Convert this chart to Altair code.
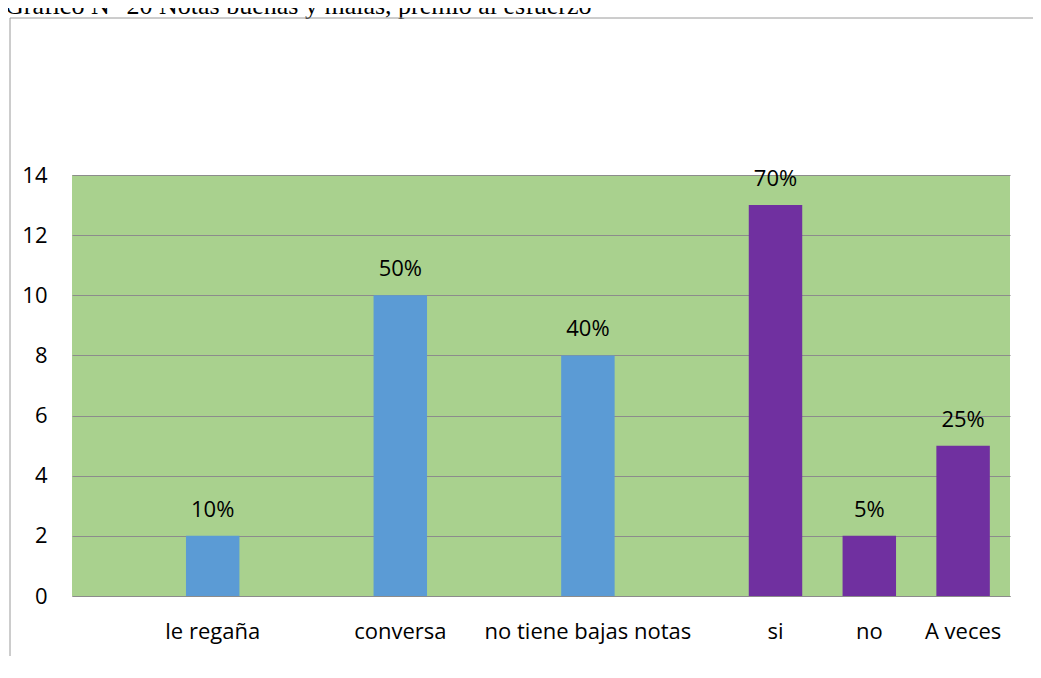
import altair as alt
import pandas as pd

# ---- data ----
title_text = "Gráfico N° 20 Notas buenas y malas, premio al esfuerzo"
slots = ["_0", "le regaña", "_2", "conversa", "_4", "no tiene bajas notas",
         "_6", "si", "no", "A veces"]
categories = ["le regaña", "conversa", "no tiene bajas notas", "si", "no", "A veces"]
values = [2, 10, 8, 13, 2, 5]
pct_labels = ["10%", "50%", "40%", "70%", "5%", "25%"]
groups = ["g1", "g1", "g1", "g2", "g2", "g2"]
y_ticks = [0, 2, 4, 6, 8, 10, 12, 14]

df = pd.DataFrame({"cat": categories, "val": values, "pct": pct_labels, "grp": groups})

FONT = "Open Sans"
W, H = 938, 421
PAD_L, PAD_T, PAD_R, PAD_B = 64, 167, 23, 60

x_enc = alt.X("cat:N", sort=slots,
              scale=alt.Scale(domain=slots, paddingInner=0.43, paddingOuter=0.215),
              axis=alt.Axis(title=None, ticks=False, grid=False, labelAngle=0,
                            labelFont=FONT, labelFontSize=22, labelColor="#000000",
                            labelPadding=25, labelLimit=0, domainColor="#8c8c8c",
                            labelExpr="indexof(datum.label, '_') == 0 ? '' : datum.label"))
y_enc = alt.Y("val:Q", scale=alt.Scale(domain=[0, 14], nice=False),
              axis=alt.Axis(title=None, values=y_ticks, ticks=False, domain=False,
                            grid=True, gridColor="#8c8c8c", gridWidth=1,
                            labelFont=FONT, labelFontSize=22, labelColor="#000000",
                            labelPadding=25))

base = alt.Chart(df)

bars = base.mark_bar().encode(
    x=x_enc, y=y_enc,
    color=alt.Color("grp:N", scale=alt.Scale(domain=["g1", "g2"],
                                             range=["#5B9BD5", "#7030A0"]),
                    legend=None))

labels = base.mark_text(font=FONT, fontSize=22, color="#000000",
                        baseline="alphabetic", dy=-19).encode(
    x=alt.X("cat:N", sort=slots), y=alt.Y("val:Q"), text="pct:N")

one = alt.Data(values=[{}])
title_mark = alt.Chart(one).mark_text(font="Liberation Serif", fontSize=26,
                                      align="left", baseline="alphabetic",
                                      color="#000000").encode(
    x=alt.value(-PAD_L - 3), y=alt.value(6 - PAD_T), text=alt.value(title_text))

top_border = alt.Chart(one).mark_rule(color="#9a9a9a", strokeWidth=1).encode(
    x=alt.value(-62), x2=alt.value(W + PAD_R), y=alt.value(10 - PAD_T))
left_border = alt.Chart(one).mark_rule(color="#9a9a9a", strokeWidth=1).encode(
    x=alt.value(-62), y=alt.value(10 - PAD_T), y2=alt.value(H + PAD_B))

chart = alt.layer(bars, labels, title_mark, top_border, left_border).properties(
    width=W, height=H,
    background="#ffffff",
    autosize=alt.AutoSizeParams(type="none"),
    padding={"left": PAD_L, "top": PAD_T, "right": PAD_R, "bottom": PAD_B},
).configure_view(fill="#A9D18E", stroke=None)

chart.save("out.html", embed_options={"renderer": "svg", "actions": False})
